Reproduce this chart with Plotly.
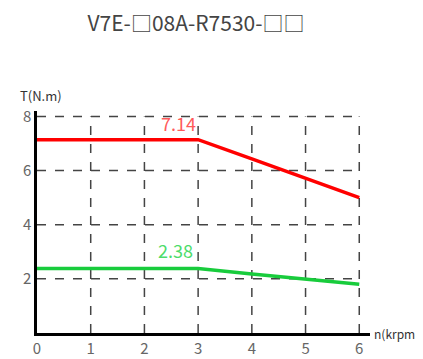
import plotly.graph_objects as go

title = "V7E-□08A-R7530-□□"
speed = [0, 3, 4, 5, 6]
peak_torque = [7.14, 7.14, 6.43, 5.71, 5.0]
rated_torque = [2.38, 2.38, 2.18, 2.0, 1.8]
x_ticks = [0, 1, 2, 3, 4, 5, 6]
y_ticks = [2, 4, 6, 8]
peak_label = "7.14"
rated_label = "2.38"

FONT = "Noto Sans CJK JP"
# the page body has an 8px margin, so the figure is drawn 8px in from the window's top-left
W, H = 415, 351

fig = go.Figure()

shapes = []
for xv in x_ticks[1:]:
    shapes.append(dict(type="line", xref="x", yref="y", x0=xv, x1=xv, y0=0, y1=max(y_ticks),
                       line=dict(color="#444", width=1.5, dash="dash"), layer="below"))
for yv in y_ticks:
    shapes.append(dict(type="line", xref="x", yref="y", x0=0, x1=max(x_ticks), y0=yv, y1=yv,
                       line=dict(color="#444", width=1.5, dash="dash"), layer="below"))

fig.add_trace(go.Scatter(x=speed, y=peak_torque, mode="lines",
                         line=dict(color="#ff0000", width=3.5), showlegend=False))
fig.add_trace(go.Scatter(x=speed, y=rated_torque, mode="lines",
                         line=dict(color="#18cc3c", width=3.5), showlegend=False))

fig.update_layout(
    width=W, height=H,
    margin=dict(l=29, r=53, t=103, b=26),
    paper_bgcolor="white", plot_bgcolor="white",
    font=dict(family=FONT, color="#555", size=14),
    title=dict(text=title, x=188 / W, xanchor="center", y=1 - 16 / H, yanchor="middle",
               font=dict(family=FONT, size=21, color="#444")),
    shapes=shapes,
    xaxis=dict(range=[0, 6.2], tickvals=x_ticks, ticktext=[str(v) for v in x_ticks],
               showgrid=False, zeroline=False, showline=True, linecolor="black", linewidth=2.5,
               ticks="", ticklen=0, automargin=False, tickfont=dict(size=15, color="#666")),
    yaxis=dict(range=[0, 8.2], tickvals=y_ticks, ticktext=[str(v) for v in y_ticks],
               showgrid=False, zeroline=False, showline=True, linecolor="black", linewidth=2.5,
               ticks="", automargin=False, tickfont=dict(size=15, color="#666")),
    annotations=[
        dict(text="T(N.m)", xref="paper", yref="paper", x=0, y=1.0, xanchor="left", yanchor="bottom",
             xshift=-19, yshift=4, showarrow=False, font=dict(family=FONT, size=13, color="#333")),
        dict(text="n(krpm)", xref="paper", yref="y", x=1.0, y=0, xanchor="left", yanchor="middle",
             xshift=2, showarrow=False, font=dict(family=FONT, size=12, color="#333")),
        dict(text=peak_label, x=speed[1], y=peak_torque[1], xanchor="right", yanchor="bottom",
             yshift=2, showarrow=False, font=dict(family=FONT, size=18, color="#ff5a5a")),
        dict(text=rated_label, x=speed[1], y=rated_torque[1], xanchor="right", yanchor="bottom",
             xshift=-3, yshift=4, showarrow=False, font=dict(family=FONT, size=18, color="#4cdc6a")),
    ],
)

fig.write_html("out.html")
